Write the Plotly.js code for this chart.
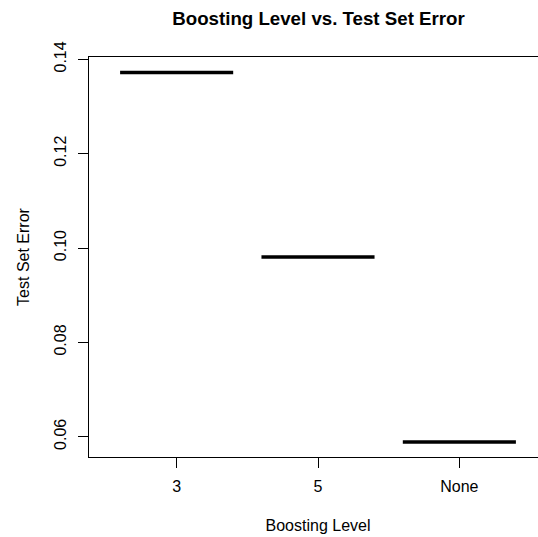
<!DOCTYPE html>
<html><head><meta charset="utf-8">
<script src="https://cdn.plot.ly/plotly-3.0.1.min.js"></script>
<style>html,body{margin:0;padding:0;overflow:hidden;background:#fff;width:538px;height:537px;}</style>
</head><body><div id="chart"></div>
<script>
const categories = ["3", "5", "None"];
const testError = [0.1372, 0.0981, 0.0589];
const yTicks = [0.06, 0.08, 0.10, 0.12, 0.14];
const boxHalfWidth = 0.4;

const traces = categories.map((c, i) => ({
  type: "scatter", mode: "lines",
  x: [i + 1 - boxHalfWidth, i + 1 + boxHalfWidth],
  y: [testError[i], testError[i]],
  line: {color: "#000", width: 3.5},
  hoverinfo: "skip", showlegend: false
}));

const font = {family: "Liberation Sans, Arial, sans-serif", size: 16, color: "#000"};
const layout = {
  width: 547, height: 537,
  margin: {l: 89, r: 0, t: 57, b: 80},
  paper_bgcolor: "#fff", plot_bgcolor: "#fff",
  font: font,
  title: {text: "<b>Boosting Level vs. Test Set Error</b>", x: 0.5823, xanchor: "center", y: 0.9655, yanchor: "middle",
          font: {family: font.family, size: 18.7, color: "#000"}},
  xaxis: {range: [0.38, 3.62], tickvals: categories.map((c, i) => i + 1), ticktext: categories,
          showgrid: false, zeroline: false, showline: true, mirror: true, linecolor: "#000", linewidth: 1,
          ticks: "outside", ticklen: 10, tickcolor: "#000", tickfont: font, ticklabelstandoff: 5,
          title: {text: "Boosting Level", font: font, standoff: 25}},
  yaxis: {range: [0.0557, 0.14049], tickvals: yTicks, tickformat: ".2f",
          tickangle: -90, showgrid: false, zeroline: false, showline: true, mirror: true, linecolor: "#000", linewidth: 1,
          ticks: "outside", ticklen: 10, tickcolor: "#000", tickfont: font, ticklabelstandoff: 6,
          title: {text: "Test Set Error", font: font, standoff: 17}}
};
Plotly.newPlot("chart", traces, layout, {staticPlot: true, displayModeBar: false});
</script></body></html>
